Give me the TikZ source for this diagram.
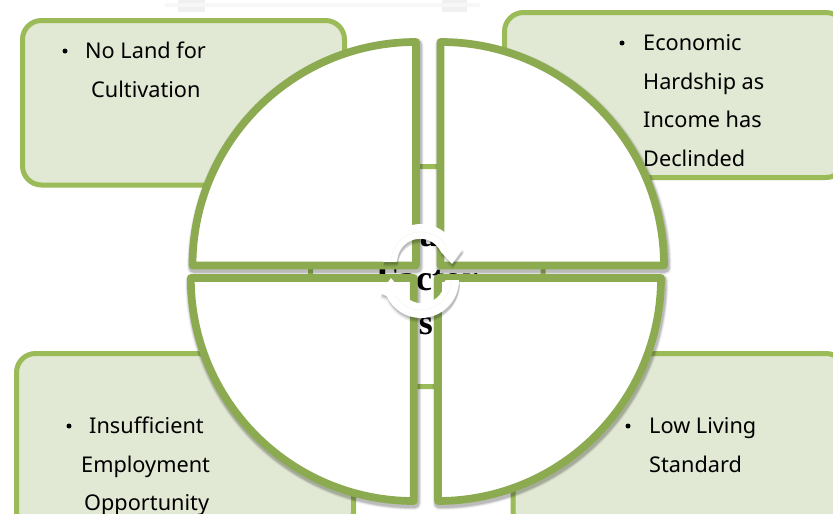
\documentclass[tikz,border=0pt]{standalone}
\usepackage{fontspec}
\setmainfont{Noto Sans}
\newfontfamily\headfont{Liberation Serif}
\definecolor{boxline}{HTML}{9BBB59}
\definecolor{boxfill}{HTML}{E1E8D3}
\definecolor{quadline}{HTML}{8CAB51}
\tikzset{
  infobox/.style={draw=boxline,line width=5pt,fill=boxfill,rounded corners=19pt},
  quad/.style={draw=quadline,line width=7.7pt,fill=white,line join=round},
  item/.style={anchor=base west,inner sep=0pt,font=\fontsize{21.7}{26}\selectfont,text=black},
  dot/.style={circle,fill=black,inner sep=0pt,minimum size=5pt},
  headline/.style={anchor=base,inner sep=0pt,font=\headfont\bfseries\fontsize{36}{44}\selectfont},
  cyc/.style={fill=white,draw=none},
  wm/.style={fill=black!6,draw=none}
}
\newcommand{\softquad}[1]{%
  \foreach \w/\o in {13/.05,11.5/.07,10/.08,9/.09}{
    \draw[line width=\w pt,black,opacity=\o,line join=round,shift={(1pt,-2.5pt)}] #1;
  }
  \draw[quad] #1;
}
\newcommand{\toparrow}{(383,262) arc[start angle=-180,end angle=-25,radius=38] -- (463,249) -- (452,264) -- (441,252) arc[start angle=-25,end angle=-180,radius=23] -- cycle}
\newcommand{\botarrow}{(459,280) arc[start angle=0,end angle=155,radius=38] -- (380,293) -- (391,278) -- (401,290) arc[start angle=155,end angle=0,radius=23] -- cycle}
\begin{document}
\begin{tikzpicture}[x=1pt,y=-1pt]
\useasboundingbox (0,0) rectangle (833,514);
\fill[white] (0,0) rectangle (833,514);
% faint watermark at the top edge
\fill[wm] (178,0) rectangle (205,12);
\fill[wm] (442,0) rectangle (467,12);
\fill[black!3] (165,3) rectangle (480,7);
% boxes
\draw[infobox] (22.5,20.5) rectangle (344.5,185);
\draw[infobox] (504.5,12.5) rectangle (845,177.5);
\draw[infobox] (16.5,353.5) rectangle (353.5,530);
\draw[infobox] (513,353.5) rectangle (845,530);
% central box and its label
\draw[draw=boxline,line width=5pt,fill=white,rounded corners=4pt] (310.5,166.5) rectangle (543,386.7);
\node[headline] (h1) at (427,246) {Main};
\node[headline] (h2) at (427,290) {Factor};
\node[headline] (h3) at (426,334) {s};
% quadrants
\softquad{(416,265.5) -- (416,42) arc[start angle=-90,end angle=-180,radius=223.5] -- cycle}
\softquad{(440.5,265.5) -- (440.5,42) arc[start angle=-90,end angle=0,radius=223.5] -- cycle}
\softquad{(413.8,278) -- (413.8,501) arc[start angle=90,end angle=180,radius=223] -- cycle}
\softquad{(438,278) -- (438,501) arc[start angle=90,end angle=0,radius=223] -- cycle}
% cycle arrows
\foreach \dx/\dy/\o in {0/5/.05,1/4/.07,1/3/.08,1/2/.08}{
  \begin{scope}[shift={(\dx pt,-\dy pt)}]
    \fill[black,opacity=\o] \toparrow;
    \fill[black,opacity=\o] \botarrow;
  \end{scope}
}
\fill[cyc] \toparrow;
\fill[cyc] \botarrow;
\draw[boxfill!50,line width=.4pt] (391,262) arc[start angle=-180,end angle=-30,radius=30];
\draw[boxfill!50,line width=.4pt] (451,280) arc[start angle=0,end angle=150,radius=30];
% texts
\node[dot] (d1) at (65,51) {};
\node[item] (t1a) at (85,58) {No Land for};
\node[item] (t1b) at (91,97) {Cultivation};
\node[dot] (d2) at (622,43) {};
\node[item] (t2a) at (643,50) {Economic};
\node[item] (t2b) at (643,89) {Hardship as};
\node[item] (t2c) at (643,127.5) {Income has};
\node[item] (t2d) at (643,166) {Declinded};
\node[dot] (d3) at (69,426) {};
\node[item] (t3a) at (89,433) {Insufficient};
\node[item] (t3b) at (81,472) {Employment};
\node[item] (t3c) at (84,510) {Opportunity};
\node[dot] (d4) at (628,426) {};
\node[item] (t4a) at (649,433) {Low Living};
\node[item] (t4b) at (649,472) {Standard};
\end{tikzpicture}
\end{document}
